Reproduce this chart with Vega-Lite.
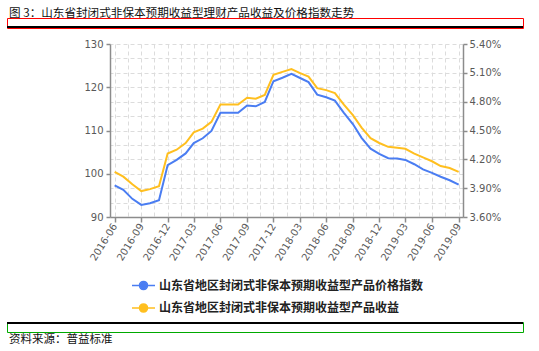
{
  "$schema": "https://vega.github.io/schema/vega-lite/v6.json",
  "background": "white",
  "padding": {"left": 6, "top": 7, "right": 5, "bottom": 5},
  "config": {
    "view": {"stroke": null},
    "axis": {
      "title": null,
      "labelFont": "DejaVu Sans",
      "labelFontSize": 10,
      "labelColor": "#595959",
      "domainColor": "#8c8c8c",
      "domainWidth": 1.5,
      "tickColor": "#8c8c8c",
      "tickWidth": 1.5,
      "gridColor": "#dcdcdc",
      "gridDash": [4, 3],
      "gridWidth": 1,
      "labelOverlap": false,
      "labelFlush": false
    }
  },
  "datasets": {
    "frame": [{"from": 0, "to": 1, "lo": 0, "hi": 2}],
    "main": [
      {"month": "2016/06/01", "price": 97.3, "yield": 4.07},
      {"month": "2016/07/01", "price": 96.3, "yield": 4.02},
      {"month": "2016/08/01", "price": 94.2, "yield": 3.94},
      {"month": "2016/09/01", "price": 92.8, "yield": 3.87},
      {"month": "2016/10/01", "price": 93.2, "yield": 3.89},
      {"month": "2016/11/01", "price": 93.9, "yield": 3.92},
      {"month": "2016/12/01", "price": 102.0, "yield": 4.26},
      {"month": "2017/01/01", "price": 103.2, "yield": 4.30},
      {"month": "2017/02/01", "price": 104.7, "yield": 4.37},
      {"month": "2017/03/01", "price": 107.1, "yield": 4.48},
      {"month": "2017/04/01", "price": 108.2, "yield": 4.52},
      {"month": "2017/05/01", "price": 109.9, "yield": 4.59},
      {"month": "2017/06/01", "price": 114.1, "yield": 4.77},
      {"month": "2017/07/01", "price": 114.1, "yield": 4.77},
      {"month": "2017/08/01", "price": 114.1, "yield": 4.77},
      {"month": "2017/09/01", "price": 115.8, "yield": 4.84},
      {"month": "2017/10/01", "price": 115.6, "yield": 4.83},
      {"month": "2017/11/01", "price": 116.6, "yield": 4.87},
      {"month": "2017/12/01", "price": 121.4, "yield": 5.08},
      {"month": "2018/01/01", "price": 122.2, "yield": 5.11},
      {"month": "2018/02/01", "price": 123.1, "yield": 5.14},
      {"month": "2018/03/01", "price": 122.2, "yield": 5.10},
      {"month": "2018/04/01", "price": 121.2, "yield": 5.06},
      {"month": "2018/05/01", "price": 118.3, "yield": 4.94},
      {"month": "2018/06/01", "price": 117.7, "yield": 4.92},
      {"month": "2018/07/01", "price": 116.9, "yield": 4.89},
      {"month": "2018/08/01", "price": 114.1, "yield": 4.77},
      {"month": "2018/09/01", "price": 111.5, "yield": 4.66},
      {"month": "2018/10/01", "price": 108.3, "yield": 4.53},
      {"month": "2018/11/01", "price": 105.8, "yield": 4.42},
      {"month": "2018/12/01", "price": 104.6, "yield": 4.37},
      {"month": "2019/01/01", "price": 103.6, "yield": 4.33},
      {"month": "2019/02/01", "price": 103.5, "yield": 4.32},
      {"month": "2019/03/01", "price": 103.2, "yield": 4.31},
      {"month": "2019/04/01", "price": 102.2, "yield": 4.26},
      {"month": "2019/05/01", "price": 101.0, "yield": 4.22},
      {"month": "2019/06/01", "price": 100.2, "yield": 4.18},
      {"month": "2019/07/01", "price": 99.3, "yield": 4.13},
      {"month": "2019/08/01", "price": 98.5, "yield": 4.11},
      {"month": "2019/09/01", "price": 97.5, "yield": 4.07}
    ]
  },
  "resolve": {"scale": {"color": "independent", "x": "independent", "y": "independent"}, "legend": {"color": "independent"}},
  "spacing": 10,
  "vconcat": [
    {
      "width": 516,
      "height": 10,
      "view": {"stroke": "#ff0000", "strokeWidth": 1},
      "title": {
        "text": "图 3：山东省封闭式非保本预期收益型理财产品收益及价格指数走势",
        "anchor": "start",
        "font": "Noto Sans CJK SC",
        "fontSize": 11.6,
        "fontWeight": "normal",
        "color": "#111111",
        "offset": -1.5,
        "dx": 2
      },
      "data": {"name": "frame"},
      "mark": {"type": "rect", "color": "#000000", "opacity": 1},
      "encoding": {
        "x": {"field": "from", "type": "quantitative", "scale": {"domain": [0, 1], "nice": false}, "axis": null},
        "x2": {"field": "to"},
        "y": {"field": "lo", "type": "quantitative", "scale": {"domain": [0, 10], "nice": false}, "axis": null},
        "y2": {"field": "hi"}
      }
    },
    {
      "resolve": {"scale": {"color": "independent", "x": "independent", "y": "independent"}, "legend": {"color": "independent"}},
      "spacing": 5,
      "vconcat": [
        {
          "resolve": {"scale": {"color": "independent"}, "legend": {"color": "independent"}},
          "spacing": 0,
          "hconcat": [
            {
              "width": 1,
              "height": 1,
              "data": {"name": "frame"},
              "mark": {"type": "rect", "opacity": 0},
              "encoding": {}
            },
            {
              "width": 353,
              "height": 173,
              "data": {"name": "main"},
              "encoding": {
                "x": {
                  "field": "month",
                  "type": "temporal",
                  "scale": {"domain": [{"year": 2016, "month": 5, "date": 16}, {"year": 2019, "month": 9, "date": 16}]},
                  "axis": {
                    "values": [
                      {"year": 2016, "month": 6, "date": 1}, {"year": 2016, "month": 7, "date": 16},
                      {"year": 2016, "month": 9, "date": 1}, {"year": 2016, "month": 10, "date": 16},
                      {"year": 2016, "month": 12, "date": 1}, {"year": 2017, "month": 1, "date": 16},
                      {"year": 2017, "month": 3, "date": 1}, {"year": 2017, "month": 4, "date": 16},
                      {"year": 2017, "month": 6, "date": 1}, {"year": 2017, "month": 7, "date": 16},
                      {"year": 2017, "month": 9, "date": 1}, {"year": 2017, "month": 10, "date": 16},
                      {"year": 2017, "month": 12, "date": 1}, {"year": 2018, "month": 1, "date": 16},
                      {"year": 2018, "month": 3, "date": 1}, {"year": 2018, "month": 4, "date": 16},
                      {"year": 2018, "month": 6, "date": 1}, {"year": 2018, "month": 7, "date": 16},
                      {"year": 2018, "month": 9, "date": 1}, {"year": 2018, "month": 10, "date": 16},
                      {"year": 2018, "month": 12, "date": 1}, {"year": 2019, "month": 1, "date": 16},
                      {"year": 2019, "month": 3, "date": 1}, {"year": 2019, "month": 4, "date": 16},
                      {"year": 2019, "month": 6, "date": 1}, {"year": 2019, "month": 7, "date": 16},
                      {"year": 2019, "month": 9, "date": 1}
                    ],
                    "labelExpr": "date(datum.value) == 1 ? timeFormat(datum.value, '%Y-%m') : ''",
                    "labelAngle": -58,
                    "labelPadding": 2,
                    "tickSize": 5,
                    "tickOpacity": {"condition": {"test": "date(datum.value) == 1", "value": 1}, "value": 0},
                    "grid": true
                  }
                }
              },
              "layer": [
                {
                  "mark": {"type": "line", "strokeWidth": 2},
                  "encoding": {
                    "y": {
                      "field": "price",
                      "type": "quantitative",
                      "scale": {"domain": [90, 130], "nice": false, "zero": false},
                      "axis": {
                        "orient": "left",
                        "values": [90, 100, 110, 120, 130],
                        "format": "d",
                        "grid": false,
                        "tickSize": 4,
                        "labelPadding": 3,
                        "minExtent": 102
                      }
                    },
                    "color": {
                      "datum": "山东省地区封闭式非保本预期收益型产品价格指数",
                      "type": "nominal",
                      "scale": {
                        "domain": ["山东省地区封闭式非保本预期收益型产品价格指数", "山东省地区封闭式非保本预期收益型产品收益"],
                        "range": ["#4A7DF2", "#FFBF1F"]
                      },
                      "legend": {
                        "orient": "none",
                        "legendX": 21,
                        "legendY": 229,
                        "direction": "vertical",
                        "title": null,
                        "padding": 0,
                        "symbolType": "M-1,0L1,0M-0.35,0A0.35,0.35,0,1,0,0.35,0A0.35,0.35,0,1,0,-0.35,0Z",
                        "symbolSize": 529,
                        "symbolStrokeWidth": 1.5,
                        "labelFont": "Noto Sans CJK SC",
                        "labelFontSize": 12,
                        "labelFontWeight": "bold",
                        "labelColor": "#222222",
                        "labelOffset": 3,
                        "labelLimit": 400,
                        "rowPadding": 2.5,
                        "encode": {
                          "symbols": {
                            "update": {
                              "fill": {"signal": "datum.index === 0 ? '#4A7DF2' : '#FFBF1F'"},
                              "stroke": {"signal": "datum.index === 0 ? '#4A7DF2' : '#FFBF1F'"}
                            }
                          }
                        }
                      }
                    }
                  }
                },
                {
                  "mark": {"type": "line", "strokeWidth": 2},
                  "encoding": {
                    "y": {
                      "field": "yield",
                      "type": "quantitative",
                      "scale": {"domain": [3.6, 5.4], "nice": false, "zero": false},
                      "axis": {
                        "orient": "right",
                        "values": [3.6, 3.75, 3.9, 4.05, 4.2, 4.35, 4.5, 4.65, 4.8, 4.95, 5.1, 5.25, 5.4],
                        "labelExpr": "round(datum.value * 100) % 30 == 0 ? format(datum.value / 100, '.2%') : ''",
                        "tickOpacity": {"condition": {"test": "round(datum.value * 100) % 30 == 0", "value": 1}, "value": 0},
                        "grid": true,
                        "tickSize": 4,
                        "labelPadding": 2
                      }
                    },
                    "color": {
                      "datum": "山东省地区封闭式非保本预期收益型产品收益",
                      "type": "nominal",
                      "scale": {
                        "domain": ["山东省地区封闭式非保本预期收益型产品价格指数", "山东省地区封闭式非保本预期收益型产品收益"],
                        "range": ["#4A7DF2", "#FFBF1F"]
                      }
                    }
                  }
                }
              ],
              "resolve": {"scale": {"y": "independent"}}
            }
          ]
        },
        {
          "width": 516,
          "height": 10,
          "view": {"stroke": "#00aa00", "strokeWidth": 1},
          "title": {
            "text": "资料来源：普益标准",
            "orient": "bottom",
            "anchor": "start",
            "font": "Noto Sans CJK SC",
            "fontSize": 11.5,
            "fontWeight": "normal",
            "color": "#111111",
            "offset": 2,
            "dx": 2
          },
          "data": {"name": "frame"},
          "mark": {"type": "rect", "color": "#000000", "opacity": 1},
          "encoding": {
            "x": {"field": "from", "type": "quantitative", "scale": {"domain": [0, 1], "nice": false}, "axis": null},
            "x2": {"field": "to"},
            "y": {"field": "lo", "type": "quantitative", "scale": {"domain": [0, 10], "nice": false, "reverse": true}, "axis": null},
            "y2": {"field": "hi"}
          }
        }
      ]
    }
  ]
}
